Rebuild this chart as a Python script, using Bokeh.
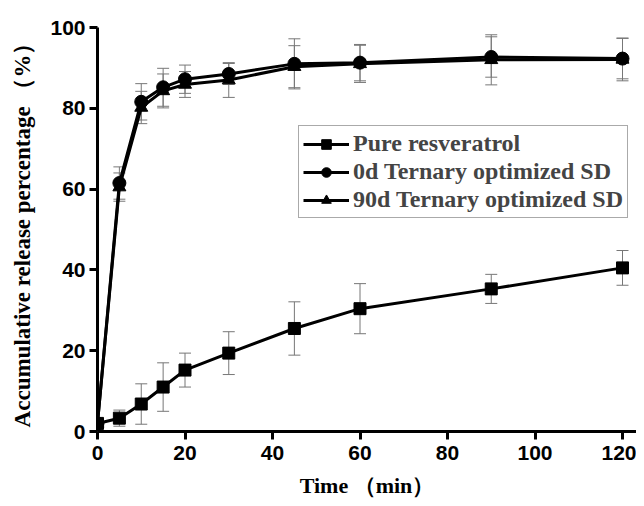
from bokeh.plotting import figure
from bokeh.models import ColumnDataSource, Whisker, Legend, LegendItem, Range1d, FixedTicker, TeeHead
from bokeh.embed import file_html
from bokeh.resources import INLINE

time = [0, 5, 10, 15, 20, 30, 45, 60, 90, 120]
pure = [2.0, 3.3, 6.8, 11.0, 15.2, 19.4, 25.5, 30.4, 35.3, 40.5]
pure_err = [0.5, 2.0, 5.0, 6.0, 4.2, 5.3, 6.6, 6.2, 3.6, 4.3]
d0 = [2.0, 61.5, 81.6, 85.2, 87.2, 88.5, 91.0, 91.3, 92.7, 92.3]
d0_err = [0.5, 4.0, 4.5, 4.7, 3.5, 2.6, 6.2, 4.5, 5.0, 5.0]
d90 = [2.0, 60.5, 80.2, 84.3, 85.9, 87.0, 90.3, 91.0, 92.0, 92.1]
d90_err = [0.5, 3.5, 4.0, 4.2, 3.2, 4.3, 5.2, 4.6, 6.2, 5.3]

labels = ["Pure resveratrol", "0d Ternary optimized SD", "90d Ternary optimized SD"]

p = figure(width=636, height=500, output_backend="svg", toolbar_location=None,
           x_range=Range1d(0, 123.2), y_range=Range1d(0, 100),
           min_border_left=97, min_border_right=0, min_border_top=27, min_border_bottom=40)
p.outline_line_color = None
p.grid.visible = False
p.background_fill_color = "white"

def src(y, e):
    return ColumnDataSource(dict(x=time, y=y, lo=[a - b for a, b in zip(y, e)], hi=[a + b for a, b in zip(y, e)]))

sources = [src(pure, pure_err), src(d0, d0_err), src(d90, d90_err)]
for s in sources:
    w = Whisker(source=s, base="x", lower="lo", upper="hi", line_color="#777777", line_width=1,
                upper_head=TeeHead(size=12, line_color="#777777", line_width=1),
                lower_head=TeeHead(size=12, line_color="#777777", line_width=1))
    p.add_layout(w)

r1 = p.line("x", "y", source=sources[0], line_color="black", line_width=3)
m1 = p.scatter("x", "y", source=sources[0], marker="square", size=12, color="black")
r2 = p.line("x", "y", source=sources[1], line_color="black", line_width=3)
m2 = p.scatter("x", "y", source=sources[1], marker="circle", size=13, color="black")
r3 = p.line("x", "y", source=sources[2], line_color="black", line_width=3)
m3 = p.scatter("x", "y", source=sources[2], marker="triangle", size=13, color="black")

legend = Legend(items=[LegendItem(label=labels[0], renderers=[r1, m1]),
                       LegendItem(label=labels[1], renderers=[r2, m2]),
                       LegendItem(label=labels[2], renderers=[r3, m3])],
                location=(201, 213))
legend.label_text_font = "Liberation Serif"
legend.label_text_font_style = "bold"
legend.label_text_font_size = "24px"
legend.label_height = 24
legend.glyph_width = 46
legend.glyph_height = 24
legend.label_standoff = 4
legend.spacing = 1
legend.padding = 4
legend.margin = 0
legend.border_line_color = "#555555"
legend.border_line_width = 1
legend.background_fill_alpha = 1
p.add_layout(legend)

for ax in (p.xaxis[0], p.yaxis[0]):
    ax.axis_line_width = 3
    ax.axis_line_color = "black"
    ax.major_tick_line_width = 3
    ax.major_tick_out = 8
    ax.major_tick_in = 0
    ax.minor_tick_line_color = None
    ax.major_label_text_font = "Liberation Sans"
    ax.major_label_text_font_style = "bold"
    ax.major_label_text_font_size = "21px"
    ax.major_label_text_color = "black"
    ax.axis_label_text_font = "Liberation Serif"
    ax.axis_label_text_font_style = "bold"
    ax.axis_label_text_font_size = "22px"
    ax.axis_label_text_color = "black"

p.yaxis.axis_label_text_font_size = "23px"
p.xaxis.ticker = FixedTicker(ticks=[0, 20, 40, 60, 80, 100, 120])
p.yaxis.ticker = FixedTicker(ticks=[0, 20, 40, 60, 80, 100])
p.xaxis.axis_label = "Time （min）"
p.yaxis.axis_label = "Accumulative release percentage （%）"
p.xaxis.axis_label_standoff = 10
p.yaxis.axis_label_standoff = 12
p.xaxis.major_label_standoff = 6
p.yaxis.major_label_standoff = 4

open("out.html", "w").write(file_html(p, INLINE))
